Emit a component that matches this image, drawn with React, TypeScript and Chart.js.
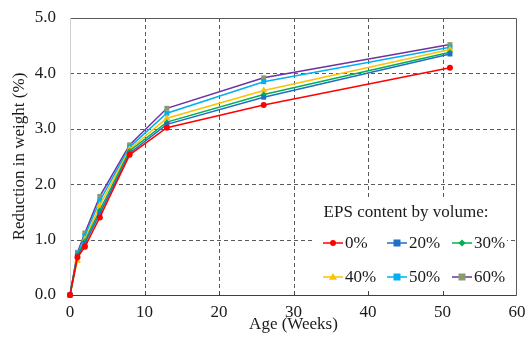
import { useEffect, useRef } from 'react';
import { Chart, registerables } from 'chart.js';

Chart.register(...registerables);

const weeks = [0, 1, 2, 4, 8, 13, 26, 51];
const seriesLabels = ['0%', '20%', '30%', '40%', '50%', '60%'];
const eps0 = [0, 0.68, 0.87, 1.40, 2.53, 3.02, 3.43, 4.10];
const eps20 = [0, 0.70, 0.93, 1.47, 2.56, 3.08, 3.57, 4.35];
const eps30 = [0, 0.72, 0.97, 1.53, 2.60, 3.12, 3.62, 4.38];
const eps40 = [0, 0.62, 1.00, 1.62, 2.63, 3.19, 3.69, 4.43];
const eps50 = [0, 0.74, 1.07, 1.70, 2.67, 3.28, 3.85, 4.47];
const eps60 = [0, 0.77, 1.12, 1.78, 2.71, 3.37, 3.92, 4.52];
const seriesValues = [eps0, eps20, eps30, eps40, eps50, eps60];

const xTicks = [0, 10, 20, 30, 40, 50, 60];
const yTicks = [0, 1, 2, 3, 4, 5];

const lineColors = ['#FF0000', '#1F6FC5', '#00B050', '#FFC000', '#00B0F0', '#7030A0'];
const markerColors = ['#FF0000', '#1F6FC5', '#00B050', '#FFC000', '#00B0F0', '#8A9A70'];
const markerStyles = ['circle', 'rect', 'rectRot', 'triangle', 'rect', 'rect'];
const markerRadius = [3, 3.5, 3, 4, 3.5, 3.5];

const legendTitle = 'EPS content by volume:';
const FONT = "'Liberation Serif', 'Times New Roman', serif";
const FS = 17;

function drawMarker(ctx: CanvasRenderingContext2D, style: string, cx: number, cy: number, r: number, color: string) {
  ctx.fillStyle = color;
  ctx.beginPath();
  if (style === 'circle') {
    ctx.arc(cx, cy, r, 0, Math.PI * 2);
  } else if (style === 'rect') {
    ctx.rect(cx - r, cy - r, r * 2, r * 2);
  } else if (style === 'rectRot') {
    ctx.moveTo(cx, cy - r * 1.2);
    ctx.lineTo(cx + r * 1.2, cy);
    ctx.lineTo(cx, cy + r * 1.2);
    ctx.lineTo(cx - r * 1.2, cy);
    ctx.closePath();
  } else if (style === 'triangle') {
    ctx.moveTo(cx, cy - r);
    ctx.lineTo(cx + r, cy + r * 0.7);
    ctx.lineTo(cx - r, cy + r * 0.7);
    ctx.closePath();
  }
  ctx.fill();
}

const framePlugin = {
  id: 'frame',
  beforeDatasetsDraw(chart: any) {
    const { ctx, chartArea: a, scales } = chart;
    const x = scales.x;
    const y = scales.y;
    ctx.save();
    ctx.lineWidth = 1;
    ctx.strokeStyle = '#595959';
    ctx.setLineDash([4, 3]);
    xTicks.slice(1, -1).forEach((v) => {
      const px = Math.round(x.getPixelForValue(v)) + 0.5;
      ctx.beginPath();
      ctx.moveTo(px, a.top);
      ctx.lineTo(px, a.bottom);
      ctx.stroke();
    });
    yTicks.slice(1, -1).forEach((v) => {
      const py = Math.round(y.getPixelForValue(v)) + 0.5;
      ctx.beginPath();
      ctx.moveTo(a.left, py);
      ctx.lineTo(a.right, py);
      ctx.stroke();
    });
    ctx.setLineDash([]);
    const top = Math.round(a.top) + 0.5;
    const right = Math.round(a.right) - 0.5;
    const left = Math.round(a.left) + 0.5;
    const bottom = Math.round(a.bottom) + 0.5;
    ctx.strokeStyle = '#595959';
    ctx.beginPath();
    ctx.moveTo(left, top);
    ctx.lineTo(right, top);
    ctx.lineTo(right, bottom);
    ctx.stroke();
    ctx.strokeStyle = '#D0D0D0';
    ctx.beginPath();
    ctx.moveTo(left, top);
    ctx.lineTo(left, bottom);
    ctx.stroke();
    ctx.strokeStyle = '#404040';
    ctx.beginPath();
    ctx.moveTo(left, bottom);
    ctx.lineTo(right, bottom);
    xTicks.slice(1, -1).forEach((v) => {
      const px = Math.round(x.getPixelForValue(v)) + 0.5;
      ctx.moveTo(px, bottom);
      ctx.lineTo(px, bottom - 4);
    });
    ctx.stroke();
    ctx.restore();
  },
  afterDatasetsDraw(chart: any) {
    const { ctx, chartArea: a } = chart;
    ctx.save();
    const bx = a.right - 202;
    const by = a.bottom - 98;
    ctx.fillStyle = '#FFFFFF';
    ctx.fillRect(bx, by, 192, 93);
    ctx.fillStyle = '#1a1a1a';
    ctx.font = `${FS}px ${FONT}`;
    ctx.textAlign = 'center';
    ctx.textBaseline = 'middle';
    ctx.fillText(legendTitle, bx + 91, by + 16);
    const colX = [bx + 8, bx + 72, bx + 137];
    const rowY = [by + 46, by + 80];
    seriesLabels.forEach((lab, i) => {
      const cx = colX[i % 3];
      const cy = rowY[Math.floor(i / 3)];
      ctx.strokeStyle = lineColors[i];
      ctx.lineWidth = 1.5;
      ctx.beginPath();
      ctx.moveTo(cx, cy);
      ctx.lineTo(cx + 20, cy);
      ctx.stroke();
      drawMarker(ctx, markerStyles[i], cx + 10, cy, markerRadius[i], markerColors[i]);
      ctx.fillStyle = '#1a1a1a';
      ctx.textAlign = 'left';
      ctx.fillText(lab, cx + 22, cy + 1);
    });
    ctx.restore();
  },
};

export default function App() {
  const ref = useRef<HTMLCanvasElement | null>(null);
  useEffect(() => {
    if (!ref.current) return;
    const chart = new Chart(ref.current, {
      type: 'line',
      data: {
        datasets: seriesValues.map((vals, i) => ({
          label: seriesLabels[i],
          data: weeks.map((w, j) => ({ x: w, y: vals[j] })),
          borderColor: lineColors[i],
          backgroundColor: markerColors[i],
          pointBackgroundColor: markerColors[i],
          pointBorderColor: markerColors[i],
          pointBorderWidth: 0,
          pointStyle: markerStyles[i] as any,
          pointRadius: markerRadius[i],
          borderWidth: 1.5,
          tension: 0,
          clip: false as any,
        })),
      },
      options: {
        animation: false,
        responsive: false,
        layout: { padding: { top: 18, right: 11, left: 0, bottom: 0 } },
        plugins: {
          legend: { display: false },
          tooltip: { enabled: false },
        },
        scales: {
          x: {
            type: 'linear',
            min: 0,
            max: 60,
            grid: { display: false, drawTicks: false },
            border: { display: false },
            afterBuildTicks: (s: any) => { s.ticks = xTicks.map((v) => ({ value: v })); },
            afterFit: (s: any) => { s.height = 45; s.paddingLeft = 0; s.paddingRight = 0; },
            ticks: {
              padding: 7,
              color: '#1a1a1a',
              font: { family: FONT, size: FS },
              maxRotation: 0,
            },
            title: {
              display: true,
              text: 'Age (Weeks)',
              color: '#1a1a1a',
              font: { family: FONT, size: FS },
              padding: { top: 0, bottom: 5 },
            },
          },
          y: {
            type: 'linear',
            min: 0,
            max: 5,
            grid: { display: false, drawTicks: false },
            border: { display: false },
            afterBuildTicks: (s: any) => { s.ticks = yTicks.map((v) => ({ value: v })); },
            afterFit: (s: any) => { s.width = 70; s.paddingTop = 0; s.paddingBottom = 0; },
            ticks: {
              padding: 14,
              color: '#1a1a1a',
              font: { family: FONT, size: FS },
              callback: (v: any) => Number(v).toFixed(1),
            },
            title: {
              display: true,
              text: 'Reduction in weight (%)',
              color: '#1a1a1a',
              font: { family: FONT, size: FS },
              padding: { top: 9, bottom: 0 },
            },
          },
        },
      },
      plugins: [framePlugin],
    });
    return () => chart.destroy();
  }, []);
  return (
    <div style={{ position: 'fixed', left: 0, top: 0, width: 528, height: 340, background: '#fff' }}>
      <canvas ref={ref} width={528} height={340} />
    </div>
  );
}
